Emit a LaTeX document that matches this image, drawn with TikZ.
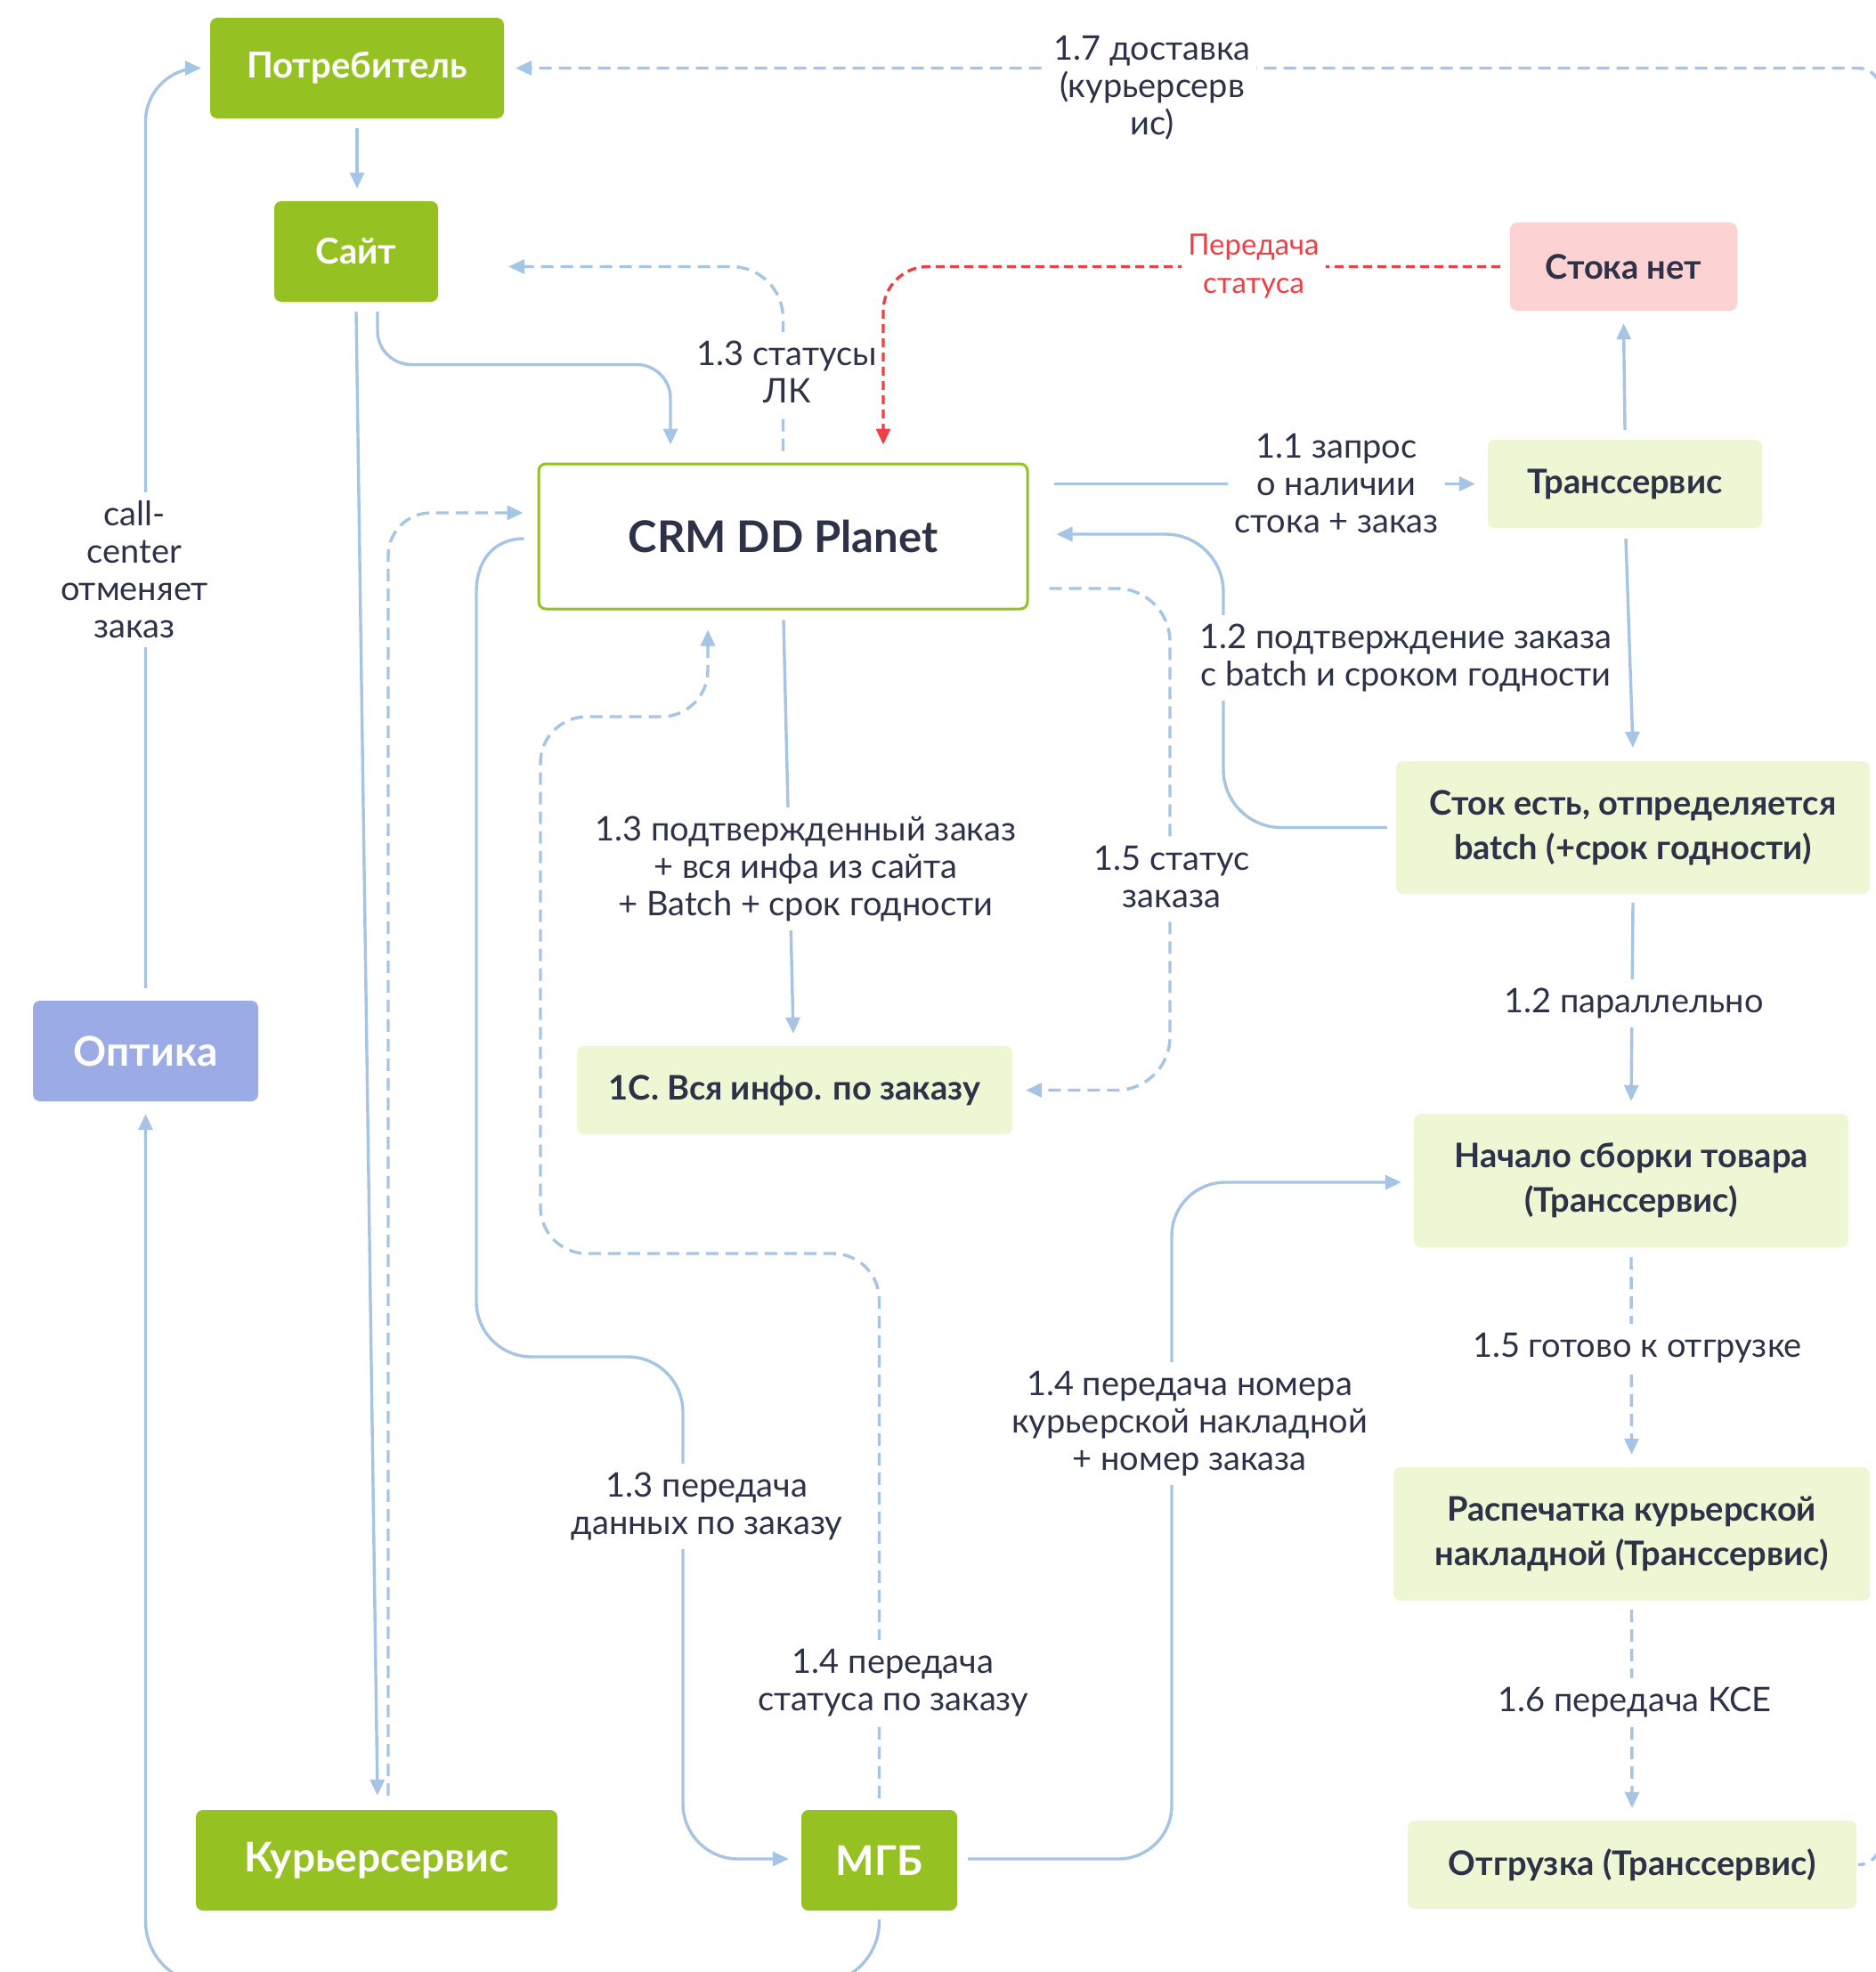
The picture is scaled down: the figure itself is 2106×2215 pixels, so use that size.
\documentclass[tikz,border=0pt]{standalone}
\usepackage{fontspec}
\setmainfont{Lato}
\usetikzlibrary{arrows.meta,calc}
\definecolor{gDark}{RGB}{150,193,35}
\definecolor{gLight}{RGB}{238,247,212}
\definecolor{pinkC}{RGB}{253,210,210}
\definecolor{purpC}{RGB}{155,171,230}
\definecolor{edgeC}{RGB}{166,196,227}
\definecolor{redC}{RGB}{238,63,70}
\definecolor{txtC}{RGB}{46,50,72}
\begin{document}
\begin{tikzpicture}[x=1pt,y=-1pt,
  box/.style={rounded corners=8pt, inner sep=0pt, align=center},
  dgreen/.style={box, fill=gDark, text=white, font=\fontsize{40}{48}\selectfont\bfseries},
  dbig/.style={dgreen, font=\fontsize{46}{54}\selectfont\bfseries},
  lgreen/.style={box, fill=gLight, text=txtC, font=\fontsize{38}{50}\selectfont\bfseries},
  conn/.style={draw=edgeC, line width=3.4pt, -{Triangle[length=18pt,width=16pt]}},
  dconn/.style={conn, dash pattern=on 14pt off 8pt},
  lbl/.style={fill=white, text=txtC, align=center, font=\fontsize{38}{42}\selectfont, inner xsep=7pt, inner ysep=10pt},
]
\useasboundingbox[fill=white] (0,0) rectangle (2106,2215);

% nodes
\node[dgreen, minimum width=330pt, minimum height=113pt] (potr) at (401,76.5) {Потребитель};
\node[dgreen, minimum width=184pt, minimum height=113pt] (sayt) at (400,282.5) {Сайт};
\node[box, draw=gDark, line width=3pt, fill=white, text=txtC, font=\fontsize{49}{56}\selectfont\bfseries, minimum width=549pt, minimum height=163pt] (crm) at (879.5,602.5) {CRM DD Planet};
\node[lgreen, fill=pinkC, minimum width=255pt, minimum height=99pt] (stoka) at (1823.5,299.5) {Стока нет};
\node[lgreen, minimum width=308pt, minimum height=99pt] (trans) at (1825,543.5) {Транссервис};
\node[lgreen, minimum width=532pt, minimum height=149pt] (stok) at (1834,929.5) {Сток есть, отпределяется\\batch (+срок годности)};
\node[lgreen, minimum width=489pt, minimum height=99pt] (onec) at (892.5,1224.5) {1С. Вся инфо. по заказу};
\node[dbig, fill=purpC, minimum width=253pt, minimum height=113pt] (optika) at (163.5,1180.5) {Оптика};
\node[lgreen, minimum width=488pt, minimum height=150pt] (nachalo) at (1832,1326) {Начало сборки товара\\(Транссервис)};
\node[lgreen, minimum width=535pt, minimum height=150pt] (raspech) at (1832.5,1723) {Распечатка курьерской\\накладной (Транссервис)};
\node[dbig, minimum width=406pt, minimum height=113pt] (kurier) at (423,2089.5) {Курьерсервис};
\node[dbig, minimum width=175pt, minimum height=113pt] (mgb) at (987.5,2089.5) {МГБ};
\node[lgreen, minimum width=504pt, minimum height=99pt] (otgr) at (1833,2094.5) {Отгрузка (Транссервис)};

% connectors
\draw[conn] ($(potr.south)+(0,11)$) -- ($(sayt.north)+(1,-14)$);
\draw[conn, rounded corners=60pt] ($(optika.north)+(0,-14)$) |- ($(potr.west)+(-10,0)$);
\draw[conn, rounded corners=70pt] ($(mgb.south)+(0,10)$) -- ++(0,72) -| ($(optika.south)+(0,14)$);
\draw[dconn, rounded corners=25pt] ($(otgr.east)+(8,0)$) -- (2112,2094.5) |- ($(potr.east)+(13,0)$);
\draw[dconn, rounded corners=58pt] ($(crm.north)+(0,-13)$) |- ($(sayt.east)+(79,17)$);
\draw[conn, rounded corners=38pt] ($(sayt.south)+(24,11)$) |- ($(crm.north)+(-126.5,-110)$) -- ($(crm.north)+(-126.5,-20)$);
\draw[conn] ($(crm.east)+(28,-59)$) -- ($(trans.west)+(-14,0)$);
\draw[conn] ($(trans.north)+(0,-11)$) -- ($(stoka.south)+(0,14)$);
\draw[conn] ($(trans.south)+(1,12)$) -- ($(stok.north)+(0,-15)$);
\draw[conn, rounded corners=65pt] ($(stok.west)+(-10,0)$) -| (1374,600) -- ($(crm.east)+(31,-2.5)$);
\draw[conn] ($(crm.south)+(0.5,11)$) -- ($(onec.north)+(-1.5,-14)$);
\draw[dconn, rounded corners=60pt] ($(crm.east)+(23,58.5)$) -| (1314,1224.5) -- ($(onec.east)+(15,0)$);
\draw[conn] ($(stok.south)+(0,10)$) -- ($(nachalo.north)+(0,-14)$);
\draw[dconn] ($(nachalo.south)+(0,11)$) -- ($(raspech.north)+(0,-14)$);
\draw[dconn] ($(raspech.south)+(0,10)$) -- ($(otgr.north)+(0,-14)$);
\draw[conn, rounded corners=60pt] ($(mgb.east)+(12,-1.5)$) -| (1316,1328) -- ($(nachalo.west)+(-14,2)$);
\draw[conn] ($(crm.west)+(-15,2.5)$) .. controls (557,605) and (535,627) .. (535,665) [rounded corners=62pt] -- (535,1524) -- (767,1524) -- (767,2088) -- ($(mgb.west)+(-14,-1.5)$);
\draw[dconn, rounded corners=52pt] ($(mgb.north)+(0,-13)$) |- (607,1408) |- (795,805) -- ($(crm.south)+(-84.5,22)$);
\draw[conn] ($(sayt.south)+(0,11)$) -- ($(kurier.north)+(1,-16)$);
\draw[dconn, rounded corners=48pt] ($(kurier.north)+(13,-16)$) |- ($(crm.west)+(-16,-26.5)$);

% labels
\node[lbl] (l17) at (1294,99) {1.7 доставка\\(курьерсерв\\ис)};
\node[lbl] (lcc) at (151,640) {call-\\center\\отменяет\\заказ};
\node[lbl] (l13s) at (884,418) {1.3 статусы\\ЛК};
\node[lbl] (l11) at (1501,543) {1.1 запрос\\о наличии\\стока + заказ};
\node[lbl] (l12) at (1579,739) {1.2 подтверждение заказа\\с batch и сроком годности};
\node[lbl] (l13p) at (905,976) {1.3 подтвержденный заказ\\+ вся инфа из сайта\\+ Batch + срок годности};
\node[lbl] (l15s) at (1316,985) {1.5 статус\\заказа};
\node[lbl] (l12p) at (1835,1127) {1.2 параллельно};
\node[lbl] (l15g) at (1839,1514) {1.5 готово к отгрузке};
\node[lbl] (l16) at (1836,1912) {1.6 передача КСЕ};
\node[lbl] (l14n) at (1336,1599) {1.4 передача номера\\курьерской накладной\\+ номер заказа};
\node[lbl] (l13d) at (794,1692) {1.3 передача\\данных по заказу};
\node[lbl] (l14s) at (1003,1890) {1.4 передача\\статуса по заказу};

% red status line
\draw[conn, draw=redC, dash pattern=on 10pt off 6pt, rounded corners=50pt] ($(stoka.west)+(-11,0)$) -| ($(crm.north)+(112.5,-20)$);
\node[lbl, text=redC, font=\fontsize{33}{43}\selectfont] (lps) at (1408,299) {Передача\\статуса};
\end{tikzpicture}
\end{document}
